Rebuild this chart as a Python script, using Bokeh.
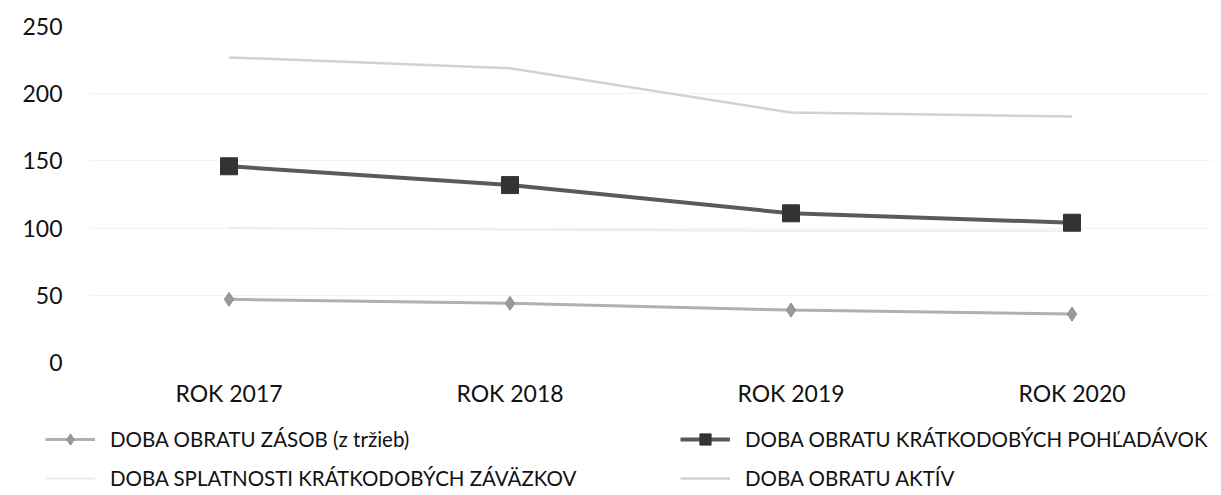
from bokeh.plotting import figure
from bokeh.models import Legend, LegendItem, FactorRange, Range1d, FixedTicker
from bokeh.embed import file_html
from bokeh.resources import INLINE

years = ["ROK 2017", "ROK 2018", "ROK 2019", "ROK 2020"]
zasob = [47, 44, 39, 36]
pohladavok = [146, 132, 111, 104]
zavazkov = [100, 99, 98, 98]
aktiv = [227, 219, 186, 183]
y_ticks = [0, 50, 100, 150, 200, 250]
series_names = ["DOBA OBRATU ZÁSOB (z tržieb)",
                "DOBA OBRATU KRÁTKODOBÝCH POHĽADÁVOK",
                "DOBA SPLATNOSTI KRÁTKODOBÝCH ZÁVÄZKOV",
                "DOBA OBRATU AKTÍV"]

FONT = "Lato"

STYLE = {
    "zasob_line": dict(line_color="#b0b0b0", line_width=3),
    "zasob_mark": dict(marker="diamond", size=14, fill_color="#9a9a9a", line_color="#8c8c8c"),
    "pohl_line": dict(line_color="#5a5a5a", line_width=4),
    "pohl_mark": dict(marker="square", size=17, fill_color="#333333", line_color="#333333"),
    "zav_line": dict(line_color="#ececec", line_width=2),
    "akt_line": dict(line_color="#d2d2d2", line_width=2.5),
}

p = figure(width=1221, height=410, x_range=FactorRange(*years, range_padding=0),
           y_range=Range1d(0, 250), output_backend="svg", toolbar_location=None,
           min_border_left=88, min_border_right=9, min_border_top=26,
           min_border_bottom=48)
p.outline_line_color = None
p.xgrid.grid_line_color = None
p.ygrid.grid_line_color = "#f3f3f3"
p.ygrid.ticker = FixedTicker(ticks=y_ticks)

for ax in (p.xaxis, p.yaxis):
    ax.axis_line_color = None
    ax.major_tick_line_color = None
    ax.minor_tick_line_color = None
    ax.major_label_text_font = FONT
    ax.major_label_text_font_size = "23px"
    ax.major_label_text_color = "#111111"
p.yaxis.ticker = FixedTicker(ticks=y_ticks)
p.yaxis.major_label_standoff = 20
p.xaxis.major_label_standoff = 10

p.line(years, aktiv, **STYLE["akt_line"])
p.line(years, zavazkov, **STYLE["zav_line"])
p.line(years, zasob, **STYLE["zasob_line"])
p.scatter(years, zasob, **STYLE["zasob_mark"])
p.line(years, pohladavok, **STYLE["pohl_line"])
p.scatter(years, pohladavok, **STYLE["pohl_mark"])

# legend area as a separate, axis-free figure (dummy glyphs lie outside its range)
p2 = figure(width=1221, height=85, x_range=Range1d(0, 1), y_range=Range1d(0, 1),
            output_backend="svg", toolbar_location=None,
            x_axis_location=None, y_axis_location=None,
            min_border=0, min_border_left=0, min_border_right=0,
            min_border_top=0, min_border_bottom=0)
p2.grid.visible = False
p2.outline_line_color = None
ex, ey = [-10, -11], [-10, -11]
l_zl = p2.line(ex, ey, **STYLE["zasob_line"])
l_zm = p2.scatter(ex, ey, **STYLE["zasob_mark"])
l_pl = p2.line(ex, ey, **STYLE["pohl_line"])
l_pm = p2.scatter(ex, ey, **STYLE["pohl_mark"])
l_zv = p2.line(ex, ey, **STYLE["zav_line"])
l_av = p2.line(ex, ey, **STYLE["akt_line"])


def make_legend(items, loc):
    lg = Legend(items=items, orientation="vertical", location=loc)
    lg.label_text_font = FONT
    lg.label_text_font_size = "20.5px"
    lg.label_text_color = "#111111"
    lg.glyph_width = 50
    lg.glyph_height = 28
    lg.label_standoff = 15
    lg.spacing = 11
    lg.padding = 0
    lg.margin = 0
    lg.border_line_color = None
    lg.background_fill_alpha = 0
    return lg


p2.add_layout(make_legend([
    LegendItem(label=series_names[0], renderers=[l_zl, l_zm]),
    LegendItem(label=series_names[2], renderers=[l_zv]),
], (45, 3)))
p2.add_layout(make_legend([
    LegendItem(label=series_names[1], renderers=[l_pl, l_pm]),
    LegendItem(label=series_names[3], renderers=[l_av]),
], (680, 3)))

open("out.html", "w").write(file_html([p, p2], INLINE))
